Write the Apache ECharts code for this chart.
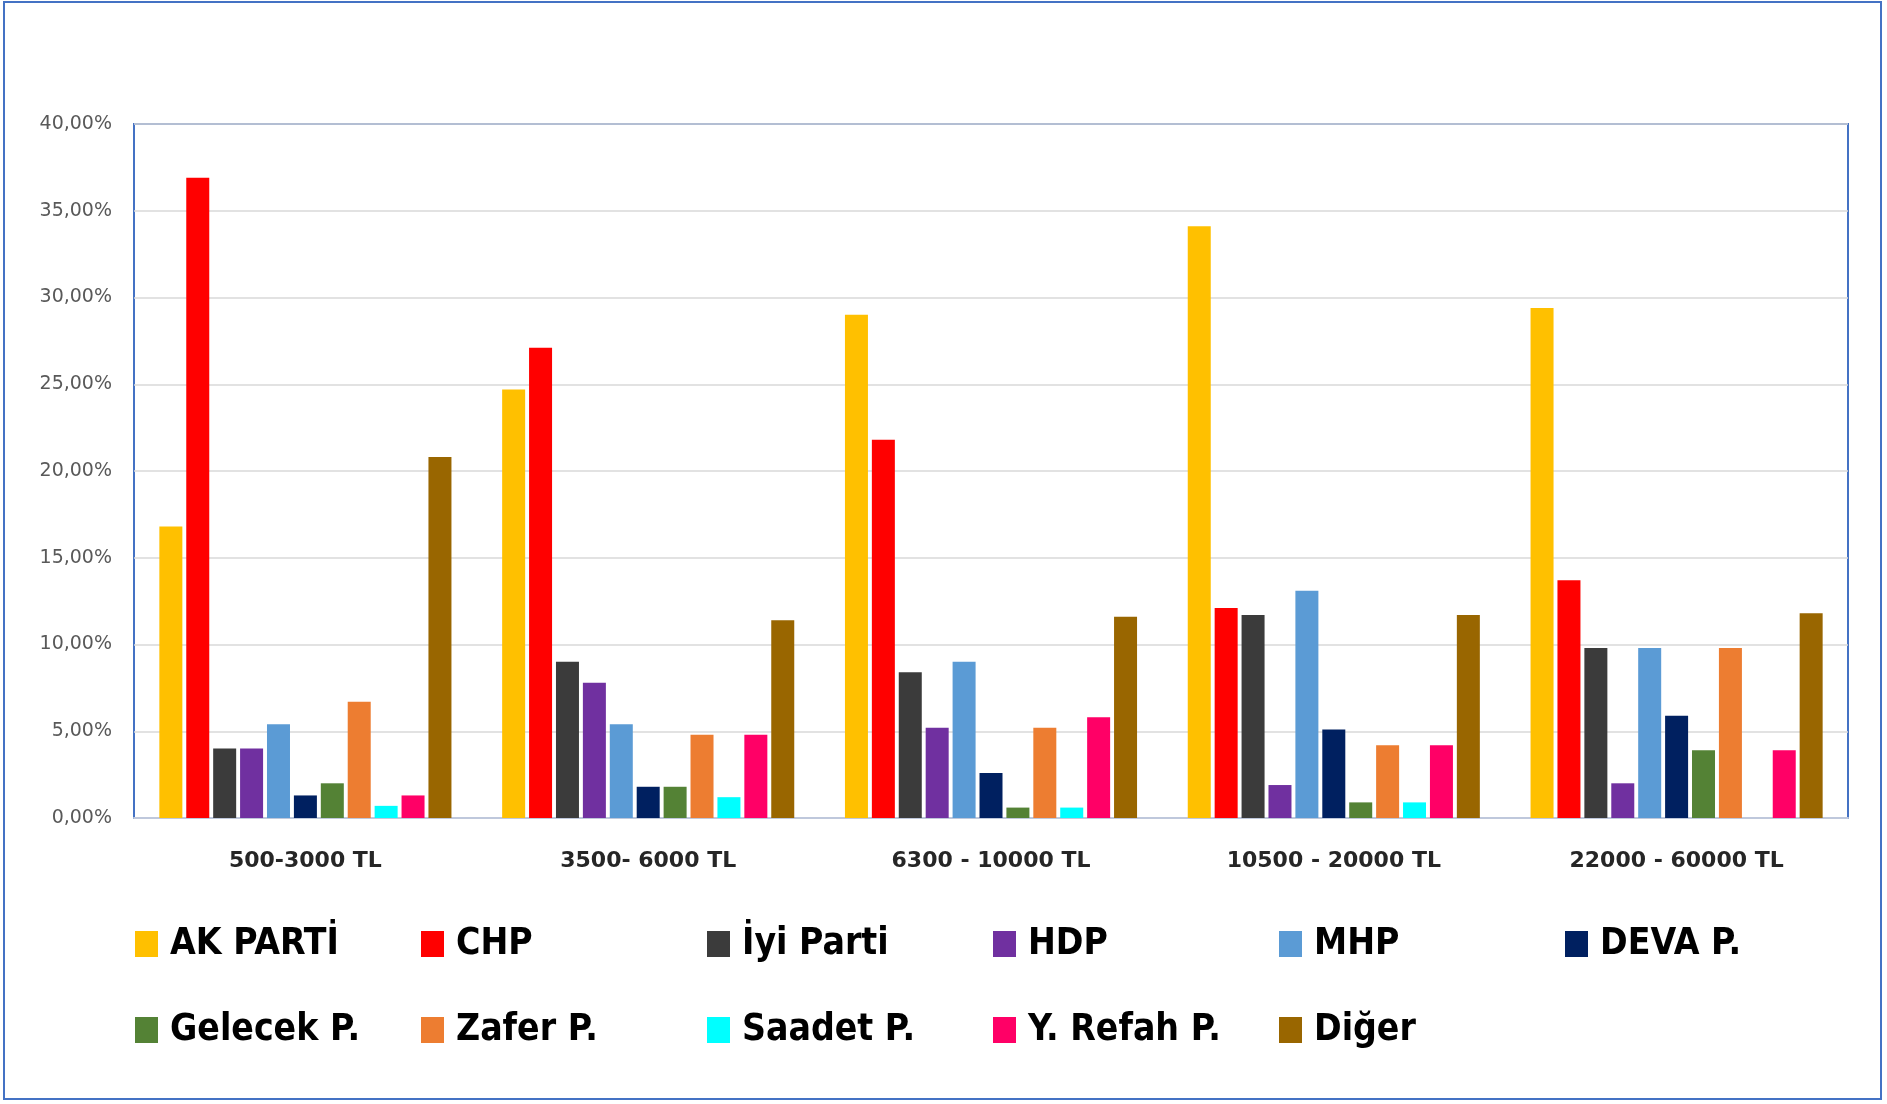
<!DOCTYPE html>
<html>
<head>
<meta charset="utf-8">
<script src="https://cdn.jsdelivr.net/npm/echarts@6/dist/echarts.min.js"></script>
<style>
  html, body { margin: 0; padding: 0; background: #fff; }
  #chart { width: 1887px; height: 1104px; }
</style>
</head>
<body>
<div id="chart"></div>
<script>
// gelir grupları
const categories = ['500-3000 TL', '3500- 6000 TL', '6300 - 10000 TL', '10500 - 20000 TL', '22000 - 60000 TL'];

const parties = ['AK PARTİ', 'CHP', 'İyi Parti', 'HDP', 'MHP', 'DEVA P.', 'Gelecek P.', 'Zafer P.', 'Saadet P.', 'Y. Refah P.', 'Diğer'];
const partyColors = ['#FFC000', '#FF0000', '#3B3B3B', '#7030A0', '#5B9BD5', '#002060', '#548235', '#ED7D31', '#00FFFF', '#FF0066', '#996600'];

// oy oranları (%), her parti için gelir grubuna göre
const akParti = [16.8, 24.7, 29.0, 34.1, 29.4];
const chp = [36.9, 27.1, 21.8, 12.1, 13.7];
const iyiParti = [4.0, 9.0, 8.4, 11.7, 9.8];
const hdp = [4.0, 7.8, 5.2, 1.9, 2.0];
const mhp = [5.4, 5.4, 9.0, 13.1, 9.8];
const deva = [1.3, 1.8, 2.6, 5.1, 5.9];
const gelecek = [2.0, 1.8, 0.6, 0.9, 3.9];
const zafer = [6.7, 4.8, 5.2, 4.2, 9.8];
const saadet = [0.7, 1.2, 0.6, 0.9, 0];
const yRefah = [1.3, 4.8, 5.8, 4.2, 3.9];
const diger = [20.8, 11.4, 11.6, 11.7, 11.8];

const seriesValues = [akParti, chp, iyiParti, hdp, mhp, deva, gelecek, zafer, saadet, yRefah, diger];

// legend: 6 sütun, 2 satır
const legendCols = 6;
const legendLeft = 135;
const legendColWidth = 286;
const legendTops = [919, 1005];

const chart = echarts.init(document.getElementById('chart'));
chart.setOption({
  animation: false,
  backgroundColor: '#fff',
  grid: {
    left: 134,
    right: 39,
    top: 124,
    bottom: 286,
    show: true,
    borderColor: '#4472C4',
    borderWidth: 2,
    backgroundColor: 'transparent'
  },
  xAxis: {
    type: 'category',
    data: categories,
    axisTick: { show: false },
    axisLine: { lineStyle: { color: '#BFC8DC', width: 2 } },
    axisLabel: {
      margin: 32,
      fontSize: 22,
      fontWeight: 'bold',
      fontFamily: 'DejaVu Sans',
      color: '#262626'
    }
  },
  yAxis: {
    type: 'value',
    min: 0,
    max: 40,
    interval: 5,
    axisLine: { show: false },
    axisTick: { show: false },
    splitLine: { lineStyle: { color: '#D9D9D9', width: 1.5 } },
    axisLabel: {
      margin: 22,
      fontSize: 19,
      fontFamily: 'DejaVu Sans',
      color: '#595959',
      formatter: v => v.toFixed(2).replace('.', ',') + '%'
    }
  },
  legend: parties.map((name, i) => ({
    data: [name],
    left: legendLeft + (i % legendCols) * legendColWidth,
    top: legendTops[Math.floor(i / legendCols)],
    padding: 0,
    icon: 'rect',
    itemWidth: 23,
    itemHeight: 26,
    selectedMode: false,
    textStyle: {
      fontSize: 37,
      lineHeight: 50,
      fontWeight: 'bold',
      fontFamily: '"Liberation Sans Narrow", "DejaVu Sans Condensed", sans-serif',
      color: '#000',
      padding: [0, 0, 0, 7]
    }
  })),
  graphic: [{
    type: 'rect',
    shape: { x: 4, y: 2, width: 1877, height: 1097 },
    style: { fill: 'none', stroke: '#4472C4', lineWidth: 2 },
    silent: true
  }],
  series: parties.map((name, i) => ({
    name: name,
    type: 'bar',
    data: seriesValues[i],
    barWidth: 23,
    barGap: '17%',
    itemStyle: { color: partyColors[i] }
  }))
});
</script>
</body>
</html>
